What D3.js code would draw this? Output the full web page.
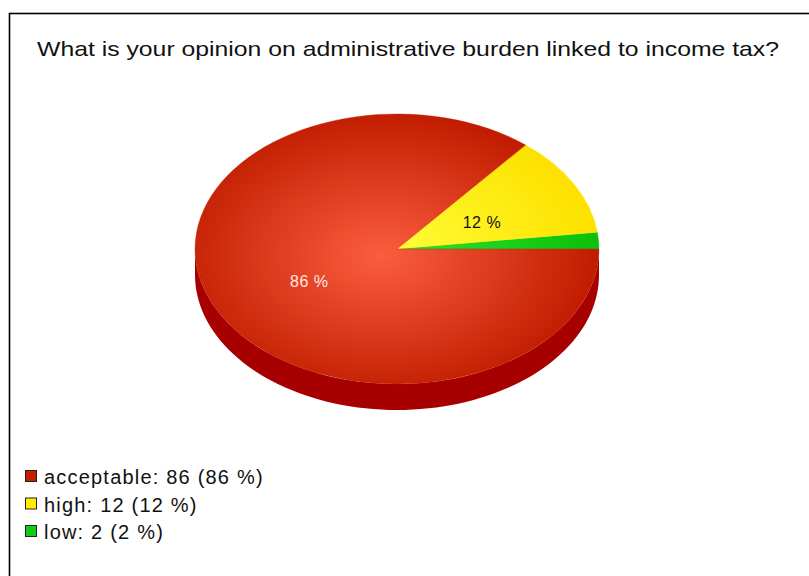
<!DOCTYPE html>
<html>
<head>
<meta charset="utf-8">
<script src="https://cdn.jsdelivr.net/npm/d3@7"></script>
<style>
  html, body { margin: 0; padding: 0; background: #ffffff; }
  svg { display: block; font-family: "Liberation Sans", Arial, sans-serif; }
</style>
</head>
<body>
<svg id="chart" width="809" height="576"></svg>
<script>
// Survey answers
const categories = ["low", "high", "acceptable"];
const counts = [2, 12, 86];
const legendOrder = ["acceptable", "high", "low"];
const titleText = "What is your opinion on administrative burden linked to income tax?";

const palette = {
  acceptable: { light: "#fa5e3e", dark: "#c21d00", side: "#a60000", legend: "#c41e00", label: "#ffe6e0" },
  high:       { light: "#ffff3c", dark: "#fde200", side: "#c8b000", legend: "#ffee00", label: "#111111" },
  low:        { light: "#2ee82e", dark: "#0cc00c", side: "#008800", legend: "#11cc11", label: "#111111" }
};

const svg = d3.select("#chart");

// Frame around the chart area
svg.append("rect")
  .attr("x", 9.5).attr("y", 13.5)
  .attr("width", 830).attr("height", 620)
  .attr("fill", "#ffffff")
  .attr("stroke", "#000000")
  .attr("stroke-width", 1.6);

// Title
svg.append("text")
  .attr("x", 37).attr("y", 56)
  .attr("font-size", 21)
  .attr("fill", "#111111")
  .attr("textLength", 742)
  .attr("lengthAdjust", "spacingAndGlyphs")
  .text(titleText);

// Pie geometry
const cx = 397, cy = 249, rx = 202, ry = 135, depth = 26;
const total = d3.sum(counts);

// Slices go counter-clockwise starting at 3 o'clock
const pie = d3.pie().sort(null).value(d => d.value)
  .startAngle(Math.PI / 2).endAngle(Math.PI / 2 - 2 * Math.PI);
const slices = pie(categories.map((c, i) => ({ name: c, value: counts[i] })));

const defs = svg.append("defs");
categories.forEach(c => {
  const g = defs.append("radialGradient")
    .attr("id", "grad-" + c)
    .attr("gradientUnits", "userSpaceOnUse")
    .attr("cx", -0.08).attr("cy", 0.05).attr("r", 1.05)
    .attr("fx", -0.08).attr("fy", 0.05);
  g.append("stop").attr("offset", "0%").attr("stop-color", palette[c].light);
  g.append("stop").attr("offset", "100%").attr("stop-color", palette[c].dark);
});

// Side wall: the visible lower half of the ellipse, extruded downward
// d3 angle a (clockwise from 12 o'clock) -> screen point
const px = a => cx + rx * Math.sin(a);
const py = a => cy - ry * Math.cos(a);
const sideLine = d3.line().x(d => d[0]).y(d => d[1]);

const sideG = svg.append("g");
slices.forEach(s => {
  // visible front spans d3 angles [PI/2, 3PI/2]; normalise the slice range
  const lo = Math.min(s.startAngle, s.endAngle), hi = Math.max(s.startAngle, s.endAngle);
  const ranges = [];
  for (let k = -2; k <= 2; k++) {
    const a0 = Math.max(lo + k * 2 * Math.PI, Math.PI / 2);
    const a1 = Math.min(hi + k * 2 * Math.PI, 3 * Math.PI / 2);
    if (a1 > a0) ranges.push([a0, a1]);
  }
  ranges.forEach(([a0, a1]) => {
    const n = 80;
    const angles = d3.range(n + 1).map(i => a0 + (a1 - a0) * i / n);
    const top = angles.map(a => [px(a), py(a)]);
    const bottom = angles.slice().reverse().map(a => [px(a), py(a) + depth]);
    sideG.append("path")
      .attr("d", sideLine(top.concat(bottom)) + "Z")
      .attr("fill", palette[s.data.name].side);
  });
});

// Top face, drawn on a unit circle and stretched into the ellipse
const arc = d3.arc().innerRadius(0).outerRadius(1);
const topG = svg.append("g").attr("transform", `translate(${cx},${cy}) scale(${rx},${ry})`);
topG.selectAll("path").data(slices).join("path")
  .attr("d", arc)
  .attr("fill", d => `url(#grad-${d.data.name})`)
  .attr("stroke", d => palette[d.data.name].dark)
  .attr("stroke-width", 0.002);

// Percentage labels
const labelFactor = 0.48;
svg.append("g").selectAll("text").data(slices).join("text")
  .attr("x", d => cx + labelFactor * rx * Math.sin((d.startAngle + d.endAngle) / 2))
  .attr("y", d => cy - labelFactor * ry * Math.cos((d.startAngle + d.endAngle) / 2) + 10.5)
  .attr("text-anchor", "middle")
  .attr("font-size", 16)
  .attr("letter-spacing", 0.5)
  .attr("fill", d => palette[d.data.name].label)
  .text(d => d.data.value / total * 100 >= 5 ? Math.round(d.data.value / total * 100) + " %" : "");

// Legend
const legend = svg.append("g");
const rows = legend.selectAll("g").data(legendOrder).join("g")
  .attr("transform", (d, i) => `translate(25,${470 + i * 27.5})`);
rows.append("rect")
  .attr("x", 0.5).attr("y", 0.5).attr("width", 11).attr("height", 11)
  .attr("fill", d => palette[d].legend)
  .attr("stroke", "#222222").attr("stroke-width", 1);
rows.append("text")
  .attr("x", 19).attr("y", 14)
  .attr("font-size", 20)
  .attr("letter-spacing", 1.2)
  .attr("fill", "#111111")
  .text(d => {
    const v = counts[categories.indexOf(d)];
    return `${d}: ${v} (${Math.round(v / total * 100)} %)`;
  });
</script>
</body>
</html>
